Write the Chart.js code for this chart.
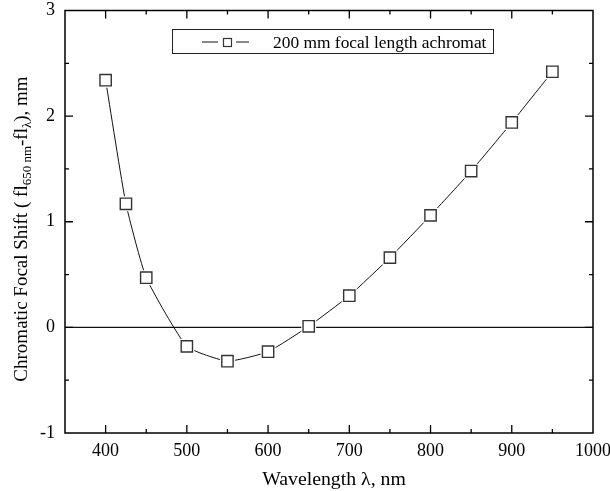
<!DOCTYPE html>
<html>
<head>
<meta charset="utf-8">
<script src="https://cdn.jsdelivr.net/npm/chart.js@4.4.1/dist/chart.umd.min.js"></script>
<style>
html,body{margin:0;padding:0;background:#fff;}
canvas{display:block;}
</style>
</head>
<body>
<canvas id="c" width="610" height="491"></canvas>
<script>
// ---- data ----
const wavelengths = [400, 425, 450, 500, 550, 600, 650, 700, 750, 800, 850, 900, 950];
const focalShift  = [2.34, 1.17, 0.47, -0.18, -0.32, -0.23, 0.01, 0.30, 0.66, 1.06, 1.48, 1.94, 2.42];
const xTickLabels = [400, 500, 600, 700, 800, 900, 1000];
const yTickLabels = [-1, 0, 1, 2, 3];
const xMinorTicks = [450, 550, 650, 750, 850, 950];
const yMinorTicks = [-0.5, 0.5, 1.5, 2.5];
const seriesName = '200 mm focal length achromat';
const xTitle = 'Wavelength \u03bb, nm';

const FONT = '"Liberation Serif", "Times New Roman", serif';
const pts = wavelengths.map((x, i) => ({x: x, y: focalShift[i]}));

const decorPlugin = {
  id: 'decor',
  beforeDatasetsDraw(chart) {
    const {ctx, chartArea: a, scales: {y}} = chart;
    ctx.save();
    ctx.strokeStyle = '#111';
    ctx.lineWidth = 1.3;
    const y0 = y.getPixelForValue(0);
    ctx.beginPath(); ctx.moveTo(a.left, y0); ctx.lineTo(a.right, y0); ctx.stroke();
    ctx.restore();
  },
  afterDraw(chart) {
    const {ctx, chartArea: a, scales: {x, y}} = chart;
    ctx.save();
    ctx.strokeStyle = '#000';
    ctx.lineWidth = 1.5;
    ctx.strokeRect(a.left, a.top, a.right - a.left, a.bottom - a.top);
    // ticks inward
    ctx.lineWidth = 1.3;
    const MAJ = 8, MIN = 4;
    ctx.beginPath();
    xTickLabels.forEach(v => {
      const px = x.getPixelForValue(v);
      if (px <= a.left + 1 || px >= a.right - 1) return;
      ctx.moveTo(px, a.bottom); ctx.lineTo(px, a.bottom - MAJ);
      ctx.moveTo(px, a.top); ctx.lineTo(px, a.top + MAJ);
    });
    xMinorTicks.forEach(v => {
      const px = x.getPixelForValue(v);
      ctx.moveTo(px, a.bottom); ctx.lineTo(px, a.bottom - MIN);
      ctx.moveTo(px, a.top); ctx.lineTo(px, a.top + MIN);
    });
    yTickLabels.forEach(v => {
      const py = y.getPixelForValue(v);
      if (py <= a.top + 1 || py >= a.bottom - 1) return;
      ctx.moveTo(a.left, py); ctx.lineTo(a.left + MAJ, py);
      ctx.moveTo(a.right, py); ctx.lineTo(a.right - MAJ, py);
    });
    yMinorTicks.forEach(v => {
      const py = y.getPixelForValue(v);
      ctx.moveTo(a.left, py); ctx.lineTo(a.left + MIN, py);
      ctx.moveTo(a.right, py); ctx.lineTo(a.right - MIN, py);
    });
    ctx.stroke();

    // legend
    ctx.lineWidth = 1;
    ctx.strokeStyle = '#222';
    ctx.strokeRect(172.5, 29.5, 321, 24);
    ctx.strokeStyle = '#111';
    ctx.beginPath();
    ctx.moveTo(202, 42); ctx.lineTo(218, 42);
    ctx.moveTo(236, 42); ctx.lineTo(249, 42);
    ctx.stroke();
    ctx.lineWidth = 1.2;
    ctx.strokeStyle = '#333';
    ctx.strokeRect(223.5, 38.5, 8, 8);
    ctx.fillStyle = '#000';
    ctx.font = '17.4px ' + FONT;
    ctx.textBaseline = 'alphabetic';
    ctx.textAlign = 'left';
    ctx.fillText(seriesName, 273, 48);

    // x title
    ctx.font = '19.8px ' + FONT;
    ctx.textAlign = 'center';
    ctx.fillText(xTitle, 334, 485);

    // y title with subscripts (rotated)
    const parts = [
      ['Chromatic Focal Shift ( fl', false],
      ['650 nm', true],
      ['-fl', false],
      ['\u03bb', true],
      ['), mm', false]
    ];
    const big = '19px ' + FONT, small = '13px ' + FONT;
    let total = 0;
    parts.forEach(p => { ctx.font = p[1] ? small : big; total += ctx.measureText(p[0]).width; });
    ctx.translate(27, 229);
    ctx.rotate(-Math.PI / 2);
    ctx.textAlign = 'left';
    let cx = -total / 2;
    parts.forEach(p => {
      ctx.font = p[1] ? small : big;
      ctx.fillText(p[0], cx, p[1] ? 4 : 0);
      cx += ctx.measureText(p[0]).width;
    });
    ctx.restore();
  }
};

function noPad(s) {
  s.paddingTop = 0; s.paddingBottom = 0; s.paddingLeft = 0; s.paddingRight = 0;
}

new Chart(document.getElementById('c'), {
  type: 'scatter',
  data: {
    datasets: [
      {data: pts, showLine: true, tension: 0.15, borderColor: '#111', borderWidth: 1,
       pointRadius: 0, order: 3},
      {data: pts, showLine: false, pointStyle: 'rect', pointRadius: 10.5,
       backgroundColor: '#fff', borderWidth: 0, order: 2},
      {data: pts, showLine: false, pointStyle: 'rect', pointRadius: 8,
       backgroundColor: '#fff', borderColor: '#333', borderWidth: 1.4, order: 1}
    ]
  },
  options: {
    responsive: false,
    animation: false,
    devicePixelRatio: 1,
    layout: {padding: {top: 10, right: 17, left: 0, bottom: 0}},
    plugins: {legend: {display: false}, tooltip: {enabled: false}},
    scales: {
      x: {
        type: 'linear', min: 350, max: 1000,
        afterBuildTicks: s => { s.ticks = xTickLabels.map(v => ({value: v})); },
        afterFit: s => { s.height = 58; noPad(s); },
        grid: {display: false, drawTicks: false},
        border: {display: false},
        ticks: {font: {family: FONT, size: 18}, color: '#000', padding: 7,
                maxRotation: 0, autoSkip: false, callback: v => String(v)}
      },
      y: {
        type: 'linear', min: -1, max: 3,
        afterBuildTicks: s => { s.ticks = yTickLabels.map(v => ({value: v})); },
        afterFit: s => { s.width = 65; noPad(s); },
        grid: {display: false, drawTicks: false},
        border: {display: false},
        ticks: {font: {family: FONT, size: 18}, color: '#000', padding: 10,
                autoSkip: false, callback: v => String(v)}
      }
    }
  },
  plugins: [decorPlugin]
});
</script>
</body>
</html>
